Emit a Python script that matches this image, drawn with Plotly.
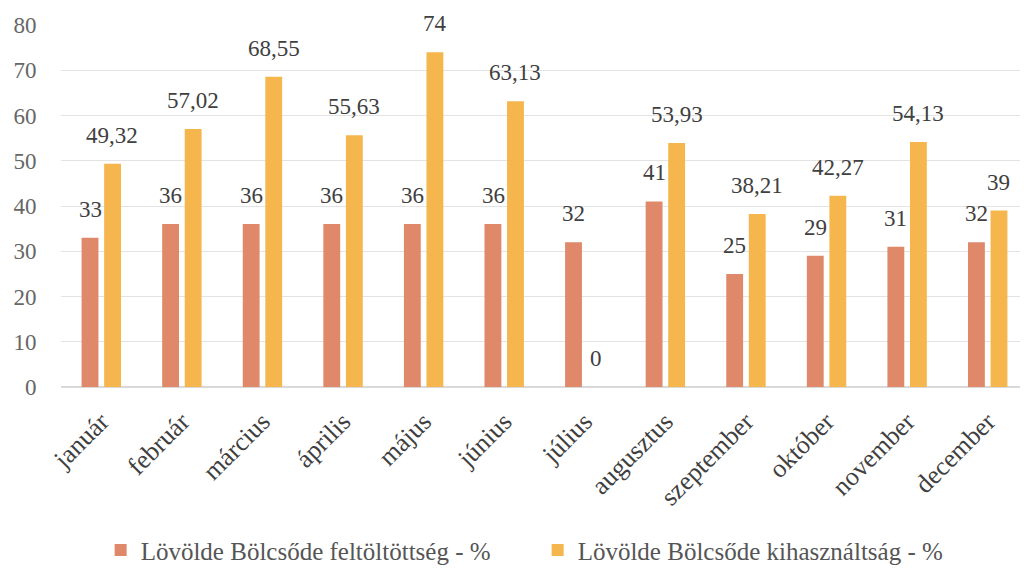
import plotly.graph_objects as go

months = ["január", "február", "március", "április", "május", "június",
          "július", "augusztus", "szeptember", "október", "november", "december"]
feltoltottseg = [33, 36, 36, 36, 36, 36, 32, 41, 25, 29, 31, 32]
kihasznaltsag = [49.32, 57.02, 68.55, 55.63, 74, 63.13, 0, 53.93, 38.21, 42.27, 54.13, 39]
series_names = ["Lövölde Bölcsőde feltöltöttség - %", "Lövölde Bölcsőde kihasználtság - %"]
y_ticks = [0, 10, 20, 30, 40, 50, 60, 70, 80]

colors = ["#E0886A", "#F4B64D"]
FONT = "'Liberation Serif', 'DejaVu Serif', serif"

fig = go.Figure()
fig.add_trace(go.Bar(x=months, y=feltoltottseg, name=series_names[0],
                     marker=dict(color=colors[0], line=dict(width=0))))
fig.add_trace(go.Bar(x=months, y=kihasznaltsag, name=series_names[1],
                     marker=dict(color=colors[1], line=dict(width=0))))

def fmt(v):
    s = ("%.2f" % v).rstrip("0").rstrip(".")
    return s.replace(".", ",")

annotations = []
for vals, shift in ((feltoltottseg, -11.2), (kihasznaltsag, 11.2)):
    for m, v in zip(months, vals):
        annotations.append(dict(x=m, y=v, text=fmt(v), showarrow=False,
                                xshift=shift, yshift=14, yanchor="bottom",
                                font=dict(family=FONT, size=23, color="#404040")))

fig.update_layout(
    width=1020, height=561,
    margin=dict(l=53, r=0, t=17, b=182, autoexpand=False),
    paper_bgcolor="white", plot_bgcolor="white",
    barmode="group", bargap=0.44, bargroupgap=0.253,
    font=dict(family=FONT, size=21, color="#595959"),
    annotations=annotations,
    showlegend=True,
    legend=dict(orientation="h", x=0.041, xanchor="left", y=-0.451, yanchor="middle",
                font=dict(family=FONT, size=25, color="#555555"),
                itemwidth=30, traceorder="normal",
                entrywidth=392, entrywidthmode="pixels"),
    xaxis=dict(tickangle=-45, showgrid=False, showline=False, zeroline=False,
               automargin=False,
               ticks="outside", ticklen=8, tickcolor="rgba(0,0,0,0)",
               tickfont=dict(family=FONT, size=26, color="#3F3F3F")),
    yaxis=dict(range=[0, 80], tickvals=y_ticks, showgrid=True, gridcolor="#E3E3E3",
               gridwidth=1, zeroline=True, zerolinecolor="#D9D9D9", showline=False,
               automargin=False,
               ticks="outside", ticklen=19, tickcolor="rgba(0,0,0,0)",
               tickfont=dict(family=FONT, size=23, color="#666666")),
)

fig.write_html("out.html")
